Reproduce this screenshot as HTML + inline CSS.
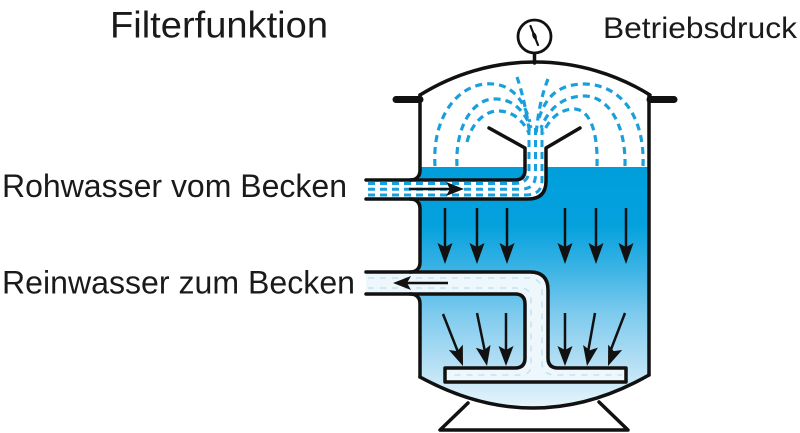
<!DOCTYPE html>
<html>
<head>
<meta charset="utf-8">
<style>
  html, body { margin: 0; padding: 0; background: #ffffff; }
  body { width: 800px; height: 433px; overflow: hidden; }
  svg { display: block; }
  text { font-family: "Liberation Sans", Arial, sans-serif; fill: #1a1a1a; }
</style>
</head>
<body>
<svg width="800" height="433" viewBox="0 0 800 433" xmlns="http://www.w3.org/2000/svg">
  <defs>
    <linearGradient id="water" x1="0" y1="167" x2="0" y2="410" gradientUnits="userSpaceOnUse">
      <stop offset="0" stop-color="#009fdc"/>
      <stop offset="0.24" stop-color="#04a1dd"/>
      <stop offset="0.42" stop-color="#3cb3e5"/>
      <stop offset="0.6" stop-color="#7ccaee"/>
      <stop offset="0.8" stop-color="#b2def4"/>
      <stop offset="1" stop-color="#e9f6fc"/>
    </linearGradient>
  </defs>

  <!-- Titles -->
  <text x="110" y="37.5" font-size="37" textLength="218" lengthAdjust="spacingAndGlyphs">Filterfunktion</text>
  <text x="603" y="38" font-size="30" textLength="194" lengthAdjust="spacingAndGlyphs">Betriebsdruck</text>
  <text x="2" y="197" font-size="32" textLength="345" lengthAdjust="spacingAndGlyphs">Rohwasser vom Becken</text>
  <text x="2" y="293.5" font-size="32" textLength="353" lengthAdjust="spacingAndGlyphs">Reinwasser zum Becken</text>

  <!-- Water -->
  <path d="M420,167 L649,167 L649,375 Q535,440 420,377 Z" fill="url(#water)"/>

  <!-- Dashed spray arcs in dome -->
  <g fill="none" stroke="#1a9fdd" stroke-width="3.2" stroke-dasharray="7 5">
    <!-- left -->
    <path d="M435,166 C432,120 455,87 485,84 C508,82 522,95 530,122"/>
    <path d="M457,166 C455,128 472,100 493,99 C512,98 524,110 531,128"/>
    <path d="M467,142 C472,122 486,110 500,111 C514,112 523,121 529,133"/>
    <!-- right -->
    <path d="M643,166 C645,118 622,85 585,84 C560,84 545,95 538,122"/>
    <path d="M625,166 C626,127 610,97 585,96 C563,96 549,108 541,128"/>
    <path d="M597,166 C598,132 590,110 575,109 C560,109 550,118 543,133"/>
    <!-- upward spray -->
    <path d="M517,77 C522,92 526,108 530,135"/>
    <path d="M548,79 C542,94 538,112 536,135"/>
  </g>

  <!-- Inlet pipe fill -->
  <path d="M366,180 L515,180 Q525,180 525,170 L525,148 L546,148 L546,181 Q546,199 528,199 L366,199 Z" fill="#ffffff"/>

  <!-- Inlet pipe dashes -->
  <g fill="none" stroke="#1a9fdd" stroke-width="3" stroke-dasharray="7 5">
    <path d="M368,183.5 L514,183.5 Q529,183.5 529,170 L529,128"/>
    <path d="M368,189.3 L520,189.3 Q535.5,189.3 535.5,175 L535.5,128"/>
    <path d="M368,195 L526,195 Q542,195 542,180 L542,128"/>
  </g>

  <!-- Outlet pipe + collector fill -->
  <path d="M366,272 L530,272 Q548,272 548,290 L548,358 Q548,368 558,368 L626,368 L626,382 L445,382 L445,368 L515,368 Q525,368 525,358 L525,304 Q525,294 515,294 L366,294 Z" fill="#eef7fc"/>
  <!-- Outlet faint dashes -->
  <g fill="none" stroke="#c6e3f1" stroke-width="1.6" stroke-dasharray="6 6">
    <path d="M368,278 L528,278 Q542,278 542,292 L542,362 Q542,375 555,375 L622,375"/>
    <path d="M368,288 L520,288 Q531,288 531,300 L531,365 Q531,375 520,375 L450,375"/>
  </g>

  <!-- Tank outline -->
  <g fill="none" stroke="#111111" stroke-width="3.5" stroke-linejoin="round" stroke-linecap="round">
    <path d="M420,95 A217,217 0 0 1 650,95"/>
    <path d="M420,95 L420,170 Q420,180 410,180"/>
    <path d="M410,199 Q420,199 420,209 L420,262 Q420,272 410,272"/>
    <path d="M410,294 Q420,294 420,304 L420,377"/>
    <path d="M649,95 L649,375"/>
    <path d="M420,377 Q535,440 649,375"/>
    <path d="M366,180 L515,180 Q525,180 525,170 L525,148 L489,128"/>
    <path d="M366,199 L528,199 Q546,199 546,181 L546,148 L580,128"/>
    <path d="M366,272 L530,272 Q548,272 548,290 L548,358 Q548,368 558,368 L626,368 L626,382 L445,382 L445,368 L515,368 Q525,368 525,358 L525,304 Q525,294 515,294 L366,294"/>
    <path d="M468,403 L440,430 L628,430 L599,402"/>
    <path d="M534.5,53 L534.5,63"/>
  </g>

  <!-- Handles -->
  <g stroke="#111111" stroke-width="7" stroke-linecap="round">
    <line x1="396" y1="99.5" x2="420" y2="99.5"/>
    <line x1="650" y1="99.5" x2="674" y2="99.5"/>
  </g>

  <!-- Gauge -->
  <circle cx="534.5" cy="36.5" r="16.5" fill="#ffffff" stroke="#111111" stroke-width="2.8"/>
  <line x1="530.5" y1="26" x2="538" y2="45" stroke="#111111" stroke-width="2.2" stroke-linecap="round"/>
  <ellipse cx="534.5" cy="36" rx="2" ry="4" transform="rotate(-22 534.5 36)" fill="#111111"/>

  <!-- Flow arrows -->
  <g stroke="#111111" stroke-width="2.5" fill="none">
    <line x1="409" y1="189" x2="450" y2="189"/>
    <line x1="448" y1="283" x2="407" y2="283"/>
    <line x1="445" y1="208" x2="445" y2="248"/>
    <line x1="477" y1="208" x2="477" y2="248"/>
    <line x1="507" y1="208" x2="507" y2="248"/>
    <line x1="565" y1="208" x2="565" y2="248"/>
    <line x1="596" y1="208" x2="596" y2="248"/>
    <line x1="626" y1="208" x2="626" y2="248"/>
    <line x1="443" y1="314" x2="458" y2="352"/>
    <line x1="477" y1="313" x2="485" y2="352"/>
    <line x1="506" y1="313" x2="506" y2="352"/>
    <line x1="565" y1="313" x2="565" y2="352"/>
    <line x1="595" y1="313" x2="588" y2="352"/>
    <line x1="625" y1="313" x2="610" y2="352"/>
  </g>
  <g fill="#111111">
    <path d="M464,189 L446,182 L450,189 L446,196 Z"/>
    <path d="M393,283 L411,276 L407,283 L411,290 Z"/>
    <path d="M445,264 L437.5,243 L445,247 L452.5,243 Z"/>
    <path d="M477,264 L469.5,243 L477,247 L484.5,243 Z"/>
    <path d="M507,264 L499.5,243 L507,247 L514.5,243 Z"/>
    <path d="M565,264 L557.5,243 L565,247 L572.5,243 Z"/>
    <path d="M596,264 L588.5,243 L596,247 L603.5,243 Z"/>
    <path d="M626,264 L618.5,243 L626,247 L633.5,243 Z"/>
    <g transform="translate(463,366) rotate(-21)"><path d="M0,0 L-7.5,-20 L0,-16 L7.5,-20 Z"/></g>
    <g transform="translate(487,366) rotate(-11)"><path d="M0,0 L-7.5,-20 L0,-16 L7.5,-20 Z"/></g>
    <g transform="translate(506,366)"><path d="M0,0 L-7.5,-20 L0,-16 L7.5,-20 Z"/></g>
    <g transform="translate(565,366)"><path d="M0,0 L-7.5,-20 L0,-16 L7.5,-20 Z"/></g>
    <g transform="translate(587,366) rotate(10)"><path d="M0,0 L-7.5,-20 L0,-16 L7.5,-20 Z"/></g>
    <g transform="translate(608,366) rotate(21)"><path d="M0,0 L-7.5,-20 L0,-16 L7.5,-20 Z"/></g>
  </g>
</svg>
</body>
</html>
